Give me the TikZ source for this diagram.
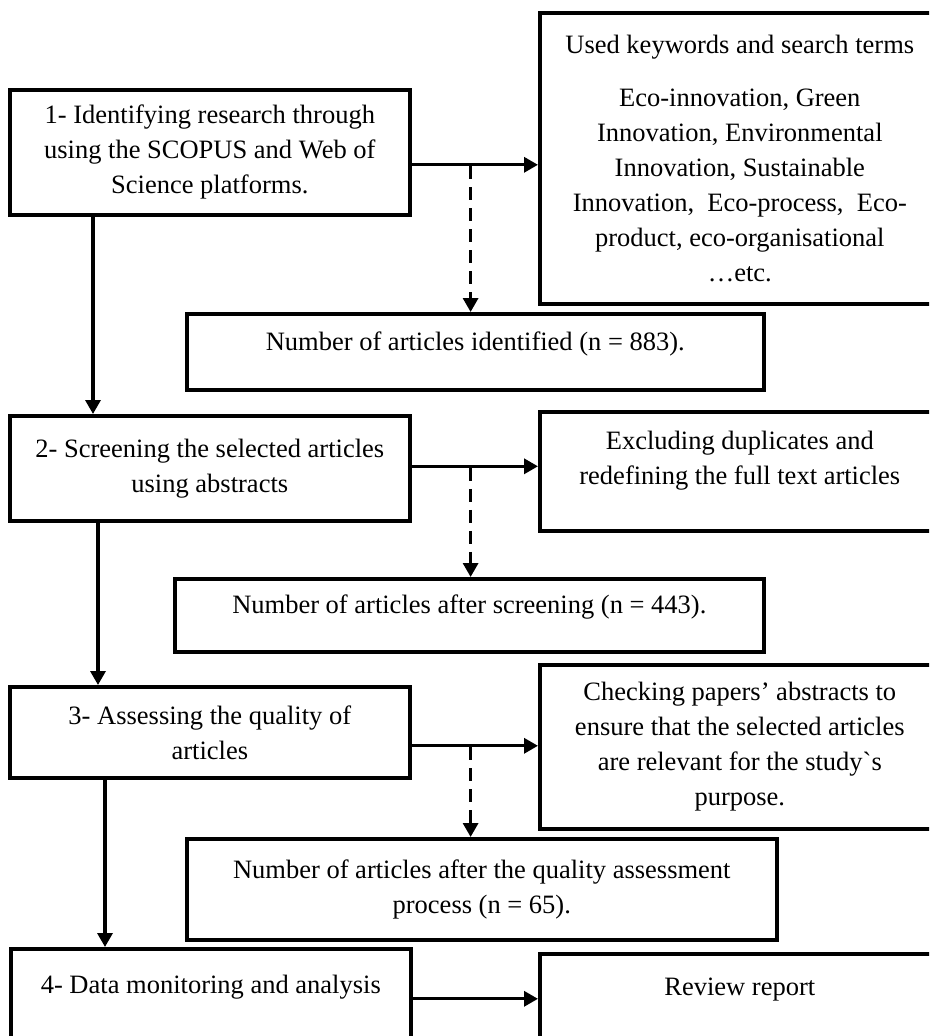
\documentclass[tikz,border=0pt]{standalone}
\usepackage{fontspec}
\setmainfont{Liberation Serif}
\usetikzlibrary{arrows.meta}

\begin{document}
\begin{tikzpicture}[x=1pt,y=-1pt,>={Triangle[length=14pt,width=15pt]},
  box/.style={draw,line width=3.6pt,rectangle,anchor=north west,align=center,inner sep=0pt,font=\fontsize{26.5}{35}\selectfont},
  step box/.style={box,minimum width=400pt},
  side box/.style={box,minimum width=400pt},
  flow/.style={->,line width=3.3pt},
  dash flow/.style={->,line width=3.2pt,dash pattern=on 13pt off 8pt}]
  \useasboundingbox (0,0) rectangle (929,1036);
  \clip (0,0) rectangle (929,1036);

  \node[step box,minimum height=125pt] (s1) at (8,88) {1- Identifying research through\\using the SCOPUS and Web of\\Science platforms.};
  \node[side box,minimum height=291pt] (k1) at (538,11) {Used keywords and search terms\\[18pt]Eco-innovation, Green\\Innovation, Environmental\\Innovation, Sustainable\\Innovation,~ Eco-process,~ Eco-\\product, eco-organisational\\…etc.};
  \node[box,minimum width=577pt,minimum height=76pt,text depth=22pt] (n1) at (185,312) {Number of articles identified (n = 883).};
  \node[step box,minimum height=105pt] (s2) at (8,414) {2- Screening the selected articles\\using abstracts};
  \node[side box,minimum height=119pt,text depth=26pt] (e1) at (538,410) {Excluding duplicates and\\redefining the full text articles};
  \node[box,minimum width=589pt,minimum height=73pt,text depth=22pt] (n2) at (173,577) {Number of articles after screening (n = 443).};
  \node[step box,minimum height=91pt] (s3) at (8,685) {3- Assessing the quality of\\articles};
  \node[side box,minimum height=164pt] (c1) at (538,663) {Checking papers’ abstracts to\\ensure that the selected articles\\are relevant for the study\textasciigrave s\\purpose.};
  \node[box,minimum width=590pt,minimum height=101pt] (n3) at (185,837) {Number of articles after the quality assessment\\process (n = 65).};
  \node[step box,minimum height=150pt,text height=18pt,text depth=78pt] (s4) at (9,947) {4- Data monitoring and analysis};
  \node[side box,minimum height=150pt,text height=18pt,text depth=84pt] (r1) at (538,952) {Review report};

  \coordinate (v1) at ([xshift=85pt]s1.south west);
  \coordinate (v2) at ([xshift=90pt]s2.south west);
  \coordinate (v3) at ([xshift=97pt]s3.south west);
  \coordinate (h1) at ([yshift=-12.5pt]s1.east);
  \coordinate (h2) at ([yshift=2pt]s2.east);
  \coordinate (h3) at ([yshift=-13.5pt]s3.east);
  \coordinate (h4) at ([yshift=25pt]s4.east);
  \coordinate (d1) at ([xshift=59pt,yshift=-1.5pt]h1);
  \coordinate (d2) at ([xshift=59pt,yshift=-1.5pt]h2);
  \coordinate (d3) at ([xshift=59pt,yshift=-1.5pt]h3);

\path[flow]
  (v1) edge (v1 |- s2.north)
  (v2) edge (v2 |- s3.north)
  (v3) edge (v3 |- s4.north)
  (h1) edge (h1 -| k1.west)
  (h2) edge (h2 -| e1.west)
  (h3) edge (h3 -| c1.west)
  (h4) edge (h4 -| r1.west)
;
\path[dash flow]
  (d1) edge (d1 |- n1.north)
  (d2) edge (d2 |- n2.north)
  (d3) edge (d3 |- n3.north)
;
\end{tikzpicture}
\end{document}
